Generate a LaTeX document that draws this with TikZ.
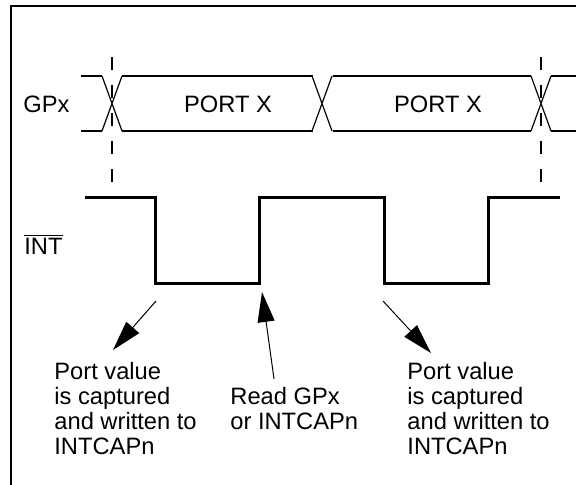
\documentclass[tikz,border=0pt]{standalone}
\usepackage{fontspec}
\setmainfont{Liberation Sans}
\usetikzlibrary{arrows.meta}

\tikzset{
  signal/.style={black, line width=1.5pt},
  bus/.style={black, line width=1pt},
  cross/.style={black, line width=0.6pt},
  marker/.style={black, line width=1pt, dash pattern=on 6.5pt off 7.5pt},
  pointer/.style={black, line width=0.5pt, -{Triangle[length=15pt,width=8.5pt]}},
  note/.style={align=left, inner sep=0pt, anchor=north west, font=\fontsize{11.85}{12.5}\selectfont},
  tag/.style={inner sep=0pt, font=\fontsize{11.85}{12.5}\selectfont},
}

\begin{document}
\begin{tikzpicture}[x=0.5pt,y=-0.5pt]
\useasboundingbox (0,0) rectangle (576,485);

%frame
\draw[black, line width=1pt] (11,485) -- (11,6) -- (576,6);

%GPx bus
\foreach \y in {76,131} {
  \draw[bus] (81,\y) -- (102,\y) (122,\y) -- (313,\y) (333,\y) -- (531,\y) (551,\y) -- (576,\y);
}
\foreach \c in {112,322,541} {
  \draw[cross] (\c-10,76) -- (\c+10,131) (\c-10,131) -- (\c+10,76);
}

%markers
\draw[marker] (112,57) -- (112,190);
\draw[marker] (541,57) -- (541,190);

%INT
\draw[signal] (85,198) -- (155,198) -- (155,284) -- (259,284) -- (259,198)
  -- (384,198) -- (384,284) -- (488,284) -- (488,198) -- (560,198);

%labels
\node[tag, anchor=west] (gpx) at (23,104) {GPx};
\node[tag, anchor=west] (int) at (24,244) {$\overline{\mbox{INT}}$};
\node[tag] (portA) at (228,104) {PORT X};
\node[tag] (portB) at (438,104) {PORT X};

\node[note] (captureA) at (54,362) {Port value\\is captured\\and written to\\INTCAPn};
\node[note] (readback) at (230,387) {Read GPx\\or INTCAPn};
\node[note] (captureB) at (407,362) {Port value\\is captured\\and written to\\INTCAPn};

%arrows
\coordinate (fallA) at (156,301); % below first falling edge
\coordinate (tipA) at (113,350);
\coordinate (riseA) at (262,292); % under the rising edge
\coordinate (tailR) at (274,379);
\coordinate (fallB) at (383,301);
\coordinate (tipB) at (431,353);

\draw[pointer] (fallA) -- (tipA);
\draw[pointer] (tailR) -- (riseA);
\draw[pointer] (fallB) -- (tipB);
\end{tikzpicture}
\end{document}
